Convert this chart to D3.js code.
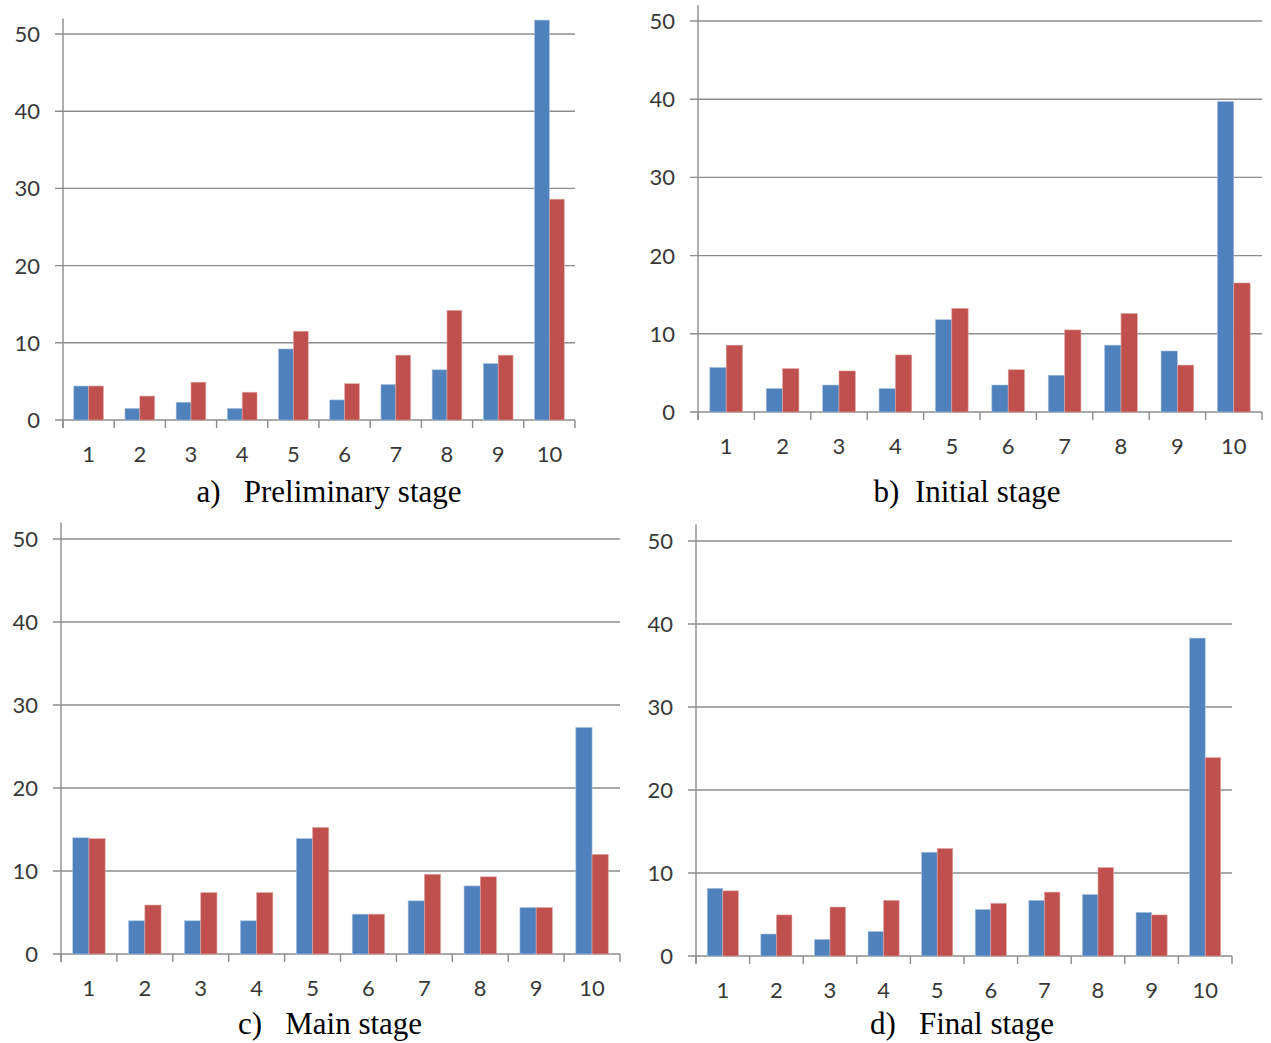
<!DOCTYPE html>
<html>
<head>
<meta charset="utf-8">
<script src="https://cdn.jsdelivr.net/npm/d3@7"></script>
<style>
  body { margin: 0; background: #fff; }
  .tick-label { font-family: Lato, "Open Sans", sans-serif; font-size: 22px; fill: #383838; }
  .caption { font-family: "Liberation Serif", "Times New Roman", serif; font-size: 31px; fill: #000; }
</style>
</head>
<body>
<script>
// Categories and tick values
const categories = ["1", "2", "3", "4", "5", "6", "7", "8", "9", "10"];
const yTicks = [0, 10, 20, 30, 40, 50];

// Series values (blue = first series, red = second)
const prelimBlue = [4.4, 1.5, 2.3, 1.5, 9.2, 2.6, 4.6, 6.5, 7.3, 51.8];
const prelimRed  = [4.4, 3.1, 4.9, 3.6, 11.5, 4.7, 8.4, 14.2, 8.4, 28.6];

const initialBlue = [5.7, 3.0, 3.45, 3.0, 11.8, 3.45, 4.7, 8.55, 7.8, 39.7];
const initialRed  = [8.55, 5.55, 5.25, 7.3, 13.25, 5.4, 10.5, 12.6, 6.0, 16.5];

const mainBlue = [14.0, 4.0, 4.0, 4.0, 13.9, 4.8, 6.4, 8.2, 5.6, 27.3];
const mainRed  = [13.9, 5.9, 7.4, 7.4, 15.25, 4.8, 9.6, 9.3, 5.6, 12.0];

const finalBlue = [8.15, 2.65, 2.0, 2.95, 12.5, 5.6, 6.7, 7.4, 5.25, 38.3];
const finalRed  = [7.85, 4.95, 5.9, 6.7, 12.95, 6.35, 7.7, 10.65, 4.95, 23.9];

const captions = ["a)\u00a0\u00a0 Preliminary stage", "b)\u00a0\u00a0Initial stage", "c)\u00a0\u00a0 Main stage", "d)\u00a0\u00a0 Final stage"];

const width = 1271, height = 1043;
const blueColor = "#4f81bd", redColor = "#c0504d";
const gridColor = "#8c8c8c";

const svg = d3.select("body")
    .append("svg")
    .attr("width", width)
    .attr("height", height);

// Panel layout: plot left/right edges, pixel row of 0 and 50, caption centre
const panels = [
    { left: 63,  right: 575,  y0: 420, y50: 34,  cx: 329, blue: prelimBlue,  red: prelimRed,  cap: captions[0], capY: 502 },
    { left: 698, right: 1262, y0: 412, y50: 21,  cx: 967, blue: initialBlue, red: initialRed, cap: captions[1], capY: 502 },
    { left: 61,  right: 620,  y0: 954, y50: 539, cx: 330, blue: mainBlue,    red: mainRed,    cap: captions[2], capY: 1034 },
    { left: 696, right: 1232, y0: 956, y50: 541, cx: 962, blue: finalBlue,   red: finalRed,   cap: captions[3], capY: 1034 }
];

panels.forEach(p => {
    const g = svg.append("g");

    const x = d3.scaleBand().domain(categories).range([p.left, p.right]);
    const y = d3.scaleLinear().domain([0, 50]).range([p.y0, p.y50]);

    // Horizontal gridlines with small ticks to the left of the axis
    g.selectAll(".grid")
        .data(yTicks)
        .enter()
        .append("line")
        .attr("x1", p.left - 8)
        .attr("x2", p.right)
        .attr("y1", d => y(d))
        .attr("y2", d => y(d))
        .attr("stroke", gridColor)
        .attr("stroke-width", 1.4);

    // Y tick labels
    g.selectAll(".ylab")
        .data(yTicks)
        .enter()
        .append("text")
        .attr("class", "tick-label")
        .attr("x", p.left - 23)
        .attr("y", d => y(d))
        .attr("dy", "0.36em")
        .attr("text-anchor", "end")
        .text(d => d);

    // Bars
    const barW = x.bandwidth() * 0.29;
    const cats = categories.map((c, i) => ({ c, b: p.blue[i], r: p.red[i] }));

    g.selectAll(".blue")
        .data(cats)
        .enter()
        .append("rect")
        .attr("x", d => x(d.c) + x.bandwidth() / 2 - barW)
        .attr("y", d => y(d.b))
        .attr("width", barW)
        .attr("height", d => y(0) - y(d.b))
        .attr("fill", blueColor)
        .attr("stroke", "#a9c1e0")
        .attr("stroke-width", 0.6);

    g.selectAll(".red")
        .data(cats)
        .enter()
        .append("rect")
        .attr("x", d => x(d.c) + x.bandwidth() / 2)
        .attr("y", d => y(d.r))
        .attr("width", barW)
        .attr("height", d => y(0) - y(d.r))
        .attr("fill", redColor)
        .attr("stroke", "#e0a7a6")
        .attr("stroke-width", 0.6);

    // Vertical axis line (runs a little above 50 and down to the tick length)
    g.append("line")
        .attr("x1", p.left).attr("x2", p.left)
        .attr("y1", y(52)).attr("y2", y(0) + 8)
        .attr("stroke", gridColor)
        .attr("stroke-width", 1.4);

    // Category boundary ticks under the x axis
    const bounds = categories.map(c => x(c)).concat([p.right]);
    g.selectAll(".xtick")
        .data(bounds)
        .enter()
        .append("line")
        .attr("x1", d => d).attr("x2", d => d)
        .attr("y1", y(0)).attr("y2", y(0) + 8)
        .attr("stroke", gridColor)
        .attr("stroke-width", 1.4);

    // X tick labels
    g.selectAll(".xlab")
        .data(categories)
        .enter()
        .append("text")
        .attr("class", "tick-label")
        .attr("x", d => x(d) + x.bandwidth() / 2)
        .attr("y", y(0) + 42)
        .attr("text-anchor", "middle")
        .text(d => d);

    // Caption
    g.append("text")
        .attr("class", "caption")
        .attr("x", p.cx)
        .attr("y", p.capY)
        .attr("text-anchor", "middle")
        .text(p.cap);
});
</script>
</body>
</html>
